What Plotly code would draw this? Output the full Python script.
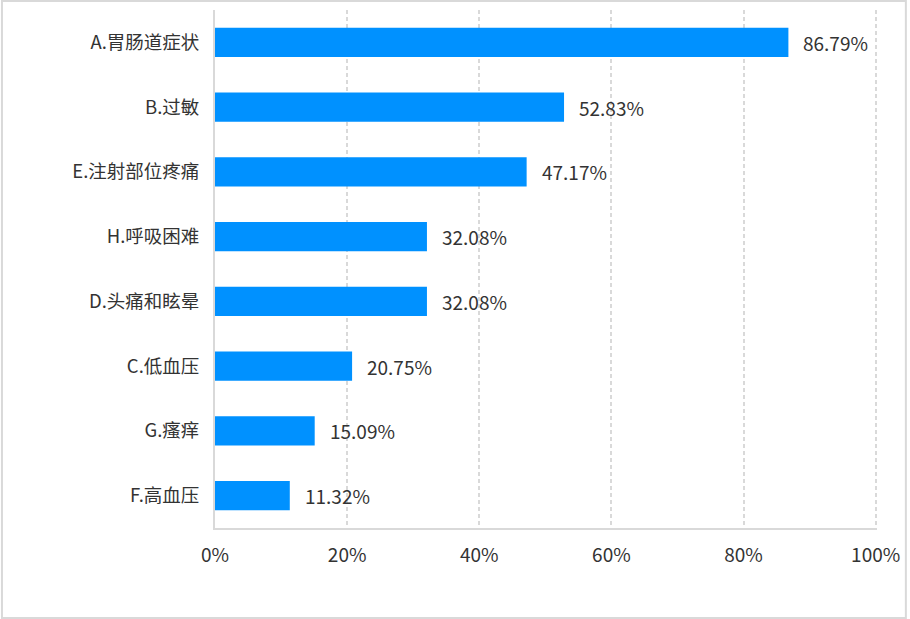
import plotly.graph_objects as go

categories = ["A.胃肠道症状", "B.过敏", "E.注射部位疼痛", "H.呼吸困难",
              "D.头痛和眩晕", "C.低血压", "G.瘙痒", "F.高血压"]
values = [0.8679, 0.5283, 0.4717, 0.3208, 0.3208, 0.2075, 0.1509, 0.1132]
labels = ["86.79%", "52.83%", "47.17%", "32.08%", "32.08%", "20.75%", "15.09%", "11.32%"]
x_ticks = [0, 0.2, 0.4, 0.6, 0.8, 1.0]
x_ticklabels = ["0%", "20%", "40%", "60%", "80%", "100%"]

W, H = 910, 619
L, R, T, B = 215, 30, 10, 91
pw, ph = W - L - R, H - T - B

FONT = "Noto Sans CJK SC, Noto Sans, sans-serif"
GRID = "#d9d9d9"
TXT = "#333333"

fig = go.Figure()
fig.add_trace(go.Bar(
    x=values, y=categories, orientation="h",
    marker=dict(color="#0091FF", line=dict(width=0)),
    width=0.45, hoverinfo="skip",
))

for v, c, t in zip(values, categories, labels):
    fig.add_annotation(x=v, y=c, text=t, showarrow=False, xanchor="left",
                       xshift=13, font=dict(size=19, color=TXT, family=FONT))

# outer border
def px2x(p):
    return (p - L) / pw

def py2y(p):
    return (H - B - p) / ph

fig.add_shape(type="rect", xref="paper", yref="paper",
              x0=px2x(1), x1=px2x(W - 1), y0=py2y(H - 1), y1=py2y(1),
              line=dict(color=GRID, width=2), layer="below")

fig.update_layout(
    width=W, height=H,
    margin=dict(l=L, r=R, t=T, b=B, pad=0),
    paper_bgcolor="white", plot_bgcolor="white",
    showlegend=False,
    font=dict(family=FONT, size=18, color=TXT),
    bargap=0.55,
    xaxis=dict(
        range=[0, 1.002], tickvals=x_ticks, ticktext=x_ticklabels,
        showgrid=True, gridcolor=GRID, gridwidth=1.5, griddash="4px,3px",
        zeroline=False, showline=True, linecolor=GRID, linewidth=2,
        ticks="outside", ticklen=9, tickcolor="rgba(0,0,0,0)",
        tickfont=dict(size=19, color=TXT, family=FONT), fixedrange=True,
    ),
    yaxis=dict(
        autorange="reversed", showgrid=False, zeroline=False,
        showline=True, linecolor=GRID, linewidth=2,
        ticks="outside", ticklen=10, tickcolor="rgba(0,0,0,0)",
        tickfont=dict(size=18.5, color=TXT, family=FONT), fixedrange=True,
    ),
)

fig.write_html("out.html")
